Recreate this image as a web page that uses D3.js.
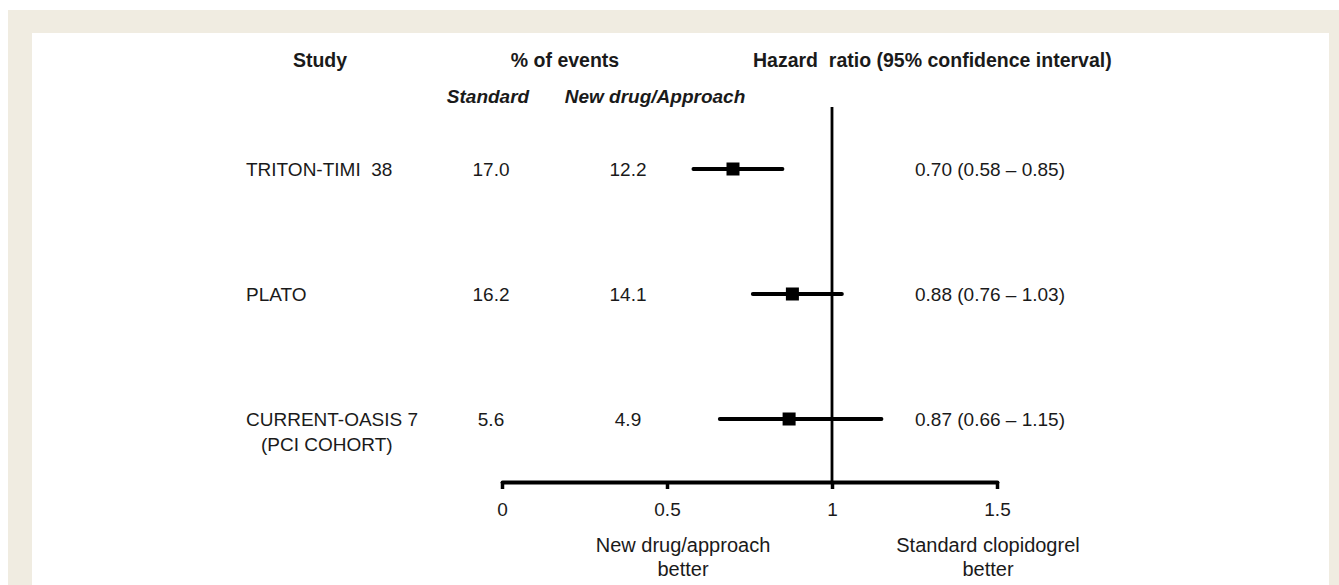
<!DOCTYPE html>
<html>
<head>
<meta charset="utf-8">
<script src="https://cdn.jsdelivr.net/npm/d3@7"></script>
<style>
  body { margin: 0; background: #fff; }
  text { font-family: "Liberation Sans", Arial, sans-serif; fill: #1a1a1a; }
  .hdr { font-size: 19.5px; font-weight: 700; }
  .sub { font-size: 19px; font-weight: 700; font-style: italic; }
  .cell { font-size: 19px; }
</style>
</head>
<body>
<div id="chart"></div>
<script>
// study rows
var studies = ["TRITON-TIMI 38", "PLATO", "CURRENT-OASIS 7"];
var studyNotes = ["", "", "(PCI COHORT)"];
var standardPct = ["17.0", "16.2", "5.6"];
var newPct = ["12.2", "14.1", "4.9"];
var hazard = [0.70, 0.88, 0.87];
var lower = [0.58, 0.76, 0.66];
var upper = [0.85, 1.03, 1.15];
var hrLabels = ["0.70 (0.58 \u2013 0.85)", "0.88 (0.76 \u2013 1.03)", "0.87 (0.66 \u2013 1.15)"];
var ticks = [0, 0.5, 1, 1.5];

var W = 1339, H = 585;

var svg = d3.select("#chart").append("svg")
    .attr("width", W)
    .attr("height", H);

// frame
svg.append("rect").attr("x", 8).attr("y", 10).attr("width", W - 8).attr("height", H - 10).attr("fill", "#f0ece1");
svg.append("rect").attr("x", 32).attr("y", 33).attr("width", 1297).attr("height", H - 33).attr("fill", "#fff");

var x = d3.scaleLinear().domain([0, 1.5]).range([502, 997]);
var y = d3.scalePoint().domain(studies).range([169, 419]);

// headers
svg.append("text").attr("class", "hdr").attr("x", 320).attr("y", 67).attr("text-anchor", "middle").text("Study");
svg.append("text").attr("class", "hdr").attr("x", 565).attr("y", 67).attr("text-anchor", "middle").text("% of events");
svg.append("text").attr("class", "hdr").attr("x", 753).attr("y", 67).attr("xml:space", "preserve")
    .text("Hazard  ratio (95% confidence interval)");
svg.append("text").attr("class", "sub").attr("x", 488).attr("y", 103).attr("text-anchor", "middle").text("Standard");
svg.append("text").attr("class", "sub").attr("x", 655).attr("y", 103).attr("text-anchor", "middle").text("New drug/Approach");

// line of no effect
svg.append("line")
    .attr("x1", x(1)).attr("x2", x(1))
    .attr("y1", 107).attr("y2", 482)
    .attr("stroke", "#000").attr("stroke-width", 2.8);

var rows = svg.selectAll("g.row")
    .data(studies)
    .enter().append("g")
    .attr("class", "row")
    .attr("transform", d => "translate(0," + y(d) + ")");

rows.append("text").attr("class", "cell").attr("x", 246).attr("y", 7)
    .attr("xml:space", "preserve")
    .text(d => d === "TRITON-TIMI 38" ? "TRITON-TIMI  38" : d);
rows.append("text").attr("class", "cell").attr("x", 261).attr("y", 32)
    .text((d, i) => studyNotes[i]);
rows.append("text").attr("class", "cell").attr("x", 491).attr("y", 7).attr("text-anchor", "middle")
    .text((d, i) => standardPct[i]);
rows.append("text").attr("class", "cell").attr("x", 628).attr("y", 7).attr("text-anchor", "middle")
    .text((d, i) => newPct[i]);
rows.append("text").attr("class", "cell").attr("x", 915).attr("y", 7)
    .text((d, i) => hrLabels[i]);

// confidence intervals
rows.append("line")
    .attr("x1", (d, i) => x(lower[i]))
    .attr("x2", (d, i) => x(upper[i]))
    .attr("stroke", "#000").attr("stroke-width", 3.8).attr("stroke-linecap", "round");
rows.append("rect")
    .attr("x", (d, i) => x(hazard[i]) - 6.5)
    .attr("y", -6.5)
    .attr("width", 13).attr("height", 13)
    .attr("fill", "#000");

// axis
var axis = svg.append("g")
    .attr("transform", "translate(0,482)")
    .call(d3.axisBottom(x).tickValues(ticks).tickFormat(d3.format("")).tickSize(7).tickSizeOuter(0));
axis.select(".domain").attr("stroke", "#000").attr("stroke-width", 3.8).attr("stroke-linecap", "round");
axis.selectAll(".tick line").attr("stroke", "#000").attr("stroke-width", 3.5);
axis.selectAll(".tick text")
    .attr("y", 34).attr("dy", 0)
    .style("font-family", "'Liberation Sans', Arial, sans-serif")
    .style("font-size", "19px")
    .attr("fill", "#1a1a1a");

// direction labels
var dirs = [
    { cx: 683, lines: ["New drug/approach", "better"] },
    { cx: 988, lines: ["Standard clopidogrel", "better"] }
];
dirs.forEach(function (d) {
    d.lines.forEach(function (t, j) {
        svg.append("text").attr("class", "cell").style("font-size", "20px")
            .attr("x", d.cx).attr("y", 552 + j * 24)
            .attr("text-anchor", "middle").text(t);
    });
});
</script>
</body>
</html>
